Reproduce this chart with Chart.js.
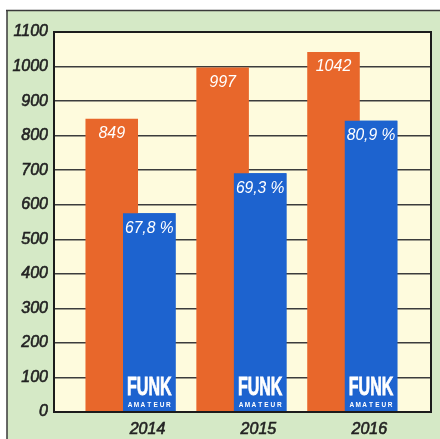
<!DOCTYPE html>
<html>
<head>
<meta charset="utf-8">
<script src="https://cdn.jsdelivr.net/npm/chart.js@4/dist/chart.umd.min.js"></script>
<style>
  html, body { margin: 0; padding: 0; background: #ffffff; }
  #wrap { width: 440px; height: 439px; }
</style>
</head>
<body>
<div id="wrap"><canvas id="c" width="440" height="439"></canvas></div>
<script>
// Members per year and the share of them (in %) shown in the blue columns
const years = [2014, 2015, 2016];
const members = [849, 997, 1042];
const sharePct = [67.8, 69.3, 80.9];

const ORANGE = '#E8672B';
const BLUE = '#1D63CF';
const PANEL_GREEN = '#D5E9C6';
const PLOT_BG = '#FEFBDD';
const INK = '#222222';
const FONT = '"Liberation Sans", Arial, sans-serif';

const orangeData = years.map((y, i) => ({ x: y, y: members[i] }));
const blueData = years.map((y, i) => ({ x: y, y: members[i] * sharePct[i] / 100 }));

const fmtShare = v => v.toFixed(1).replace('.', ',') + ' %';

const panelPlugin = {
  id: 'panel',
  beforeDraw(chart) {
    const { ctx, chartArea: a, width, height } = chart;
    ctx.save();
    ctx.fillStyle = '#ffffff';
    ctx.fillRect(0, 0, width, height);
    // green panel with its top and left rule
    ctx.fillStyle = PANEL_GREEN;
    ctx.fillRect(7, 10, width - 7, height - 10);
    ctx.strokeStyle = '#3a3a3a';
    ctx.lineWidth = 1.5;
    ctx.beginPath();
    ctx.moveTo(6, 10.5); ctx.lineTo(width, 10.5);
    ctx.moveTo(7, 10); ctx.lineTo(7, height);
    ctx.stroke();
    // plot background
    ctx.fillStyle = PLOT_BG;
    ctx.fillRect(a.left, a.top, a.right - a.left, a.bottom - a.top);
    ctx.restore();
  },
  afterDatasetsDraw(chart) {
    const { ctx, chartArea: a } = chart;
    const orangeMeta = chart.getDatasetMeta(0);
    const blueMeta = chart.getDatasetMeta(1);
    // blue columns sit in front of the orange ones
    blueMeta.data.forEach(el => el.draw(ctx));

    ctx.save();
    ctx.strokeStyle = '#1c1c1c';
    ctx.lineWidth = 2;
    ctx.strokeRect(a.left, a.top, a.right - a.left, a.bottom - a.top);

    // value labels inside the columns
    ctx.fillStyle = '#ffffff';
    ctx.textAlign = 'center';
    ctx.textBaseline = 'middle';
    ctx.font = 'italic 16px ' + FONT;
    orangeMeta.data.forEach((el, i) => {
      ctx.fillText(String(members[i]), el.x, el.y + 15);
    });
    blueMeta.data.forEach((el, i) => {
      const t = fmtShare(sharePct[i]);
      const tw = ctx.measureText(t).width;
      const maxW = el.width - 4;
      ctx.save();
      ctx.translate(el.x, el.y + 15);
      if (tw > maxW) ctx.scale(maxW / tw, 1);
      ctx.fillText(t, 0, 0);
      ctx.restore();
    });

    // FUNK AMATEUR mark at the foot of each blue column
    blueMeta.data.forEach(el => {
      const w = el.width - 8;
      const bottom = el.base;
      ctx.save();
      ctx.font = 'bold 26px ' + FONT;
      const fw = ctx.measureText('FUNK').width;
      ctx.translate(el.x, bottom - 16);
      ctx.scale(w / fw, 1);
      ctx.textAlign = 'center';
      ctx.textBaseline = 'alphabetic';
      ctx.strokeStyle = '#ffffff';
      ctx.lineWidth = 0.8;
      ctx.fillText('FUNK', 0, 0);
      ctx.strokeText('FUNK', 0, 0);
      ctx.restore();

      const word = 'AMATEUR';
      ctx.save();
      ctx.font = 'bold 6.5px ' + FONT;
      ctx.textAlign = 'center';
      ctx.textBaseline = 'alphabetic';
      const step = w / word.length;
      for (let k = 0; k < word.length; k++) {
        ctx.fillText(word[k], el.x - w / 2 + step * (k + 0.5), bottom - 4.5);
      }
      ctx.restore();
    });
    ctx.restore();
  }
};

new Chart(document.getElementById('c'), {
  type: 'bar',
  data: {
    datasets: [
      { label: 'Mitglieder', data: orangeData, backgroundColor: ORANGE, borderWidth: 0 },
      { label: 'Anteil', data: blueData, backgroundColor: BLUE, borderWidth: 0 }
    ]
  },
  options: {
    responsive: false,
    animation: false,
    events: [],
    layout: { padding: { top: 32, right: 9, left: 0, bottom: 0 } },
    datasets: {
      bar: { categoryPercentage: 0.677, barPercentage: 1.4, grouped: true }
    },
    plugins: { legend: { display: false }, tooltip: { enabled: false } },
    scales: {
      x: {
        type: 'linear',
        min: 2013.31,
        max: 2016.71,
        offset: false,
        grid: { display: false },
        border: { display: false },
        ticks: {
          stepSize: 1,
          includeBounds: false,
          autoSkip: false,
          maxRotation: 0,
          padding: 0,
          labelOffset: 17,
          color: INK,
          textStrokeColor: INK,
          textStrokeWidth: 0.6,
          font: { family: FONT, size: 16, style: 'italic' },
          callback: v => (Number.isInteger(v) ? String(v) : '')
        },
        afterFit: s => { s.height = 27; }
      },
      y: {
        min: 0,
        max: 1100,
        grid: { color: '#3c3c3c', lineWidth: 1.5, drawTicks: false },
        border: { display: false },
        ticks: {
          stepSize: 100,
          padding: 6,
          color: INK,
          textStrokeColor: INK,
          textStrokeWidth: 0.6,
          font: { family: FONT, size: 16, style: 'italic' },
          callback: v => String(v)
        },
        afterFit: s => { s.width = 54; }
      }
    }
  },
  plugins: [panelPlugin]
});
</script>
</body>
</html>
